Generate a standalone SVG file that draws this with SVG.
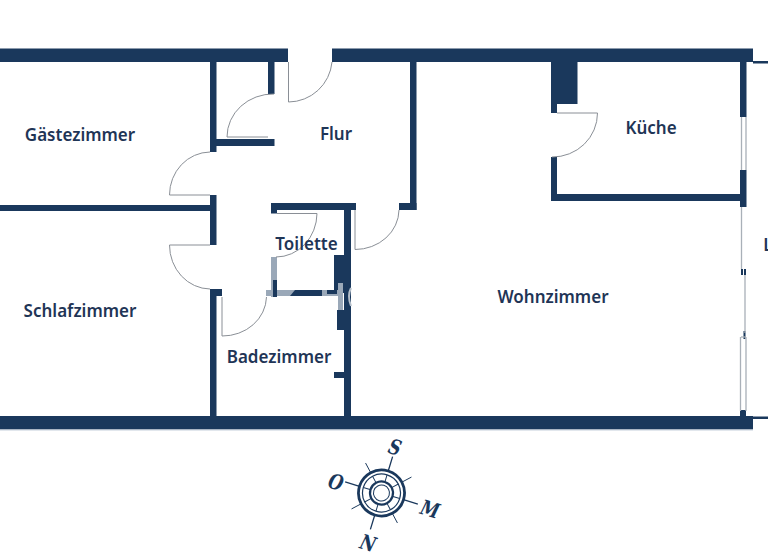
<svg xmlns="http://www.w3.org/2000/svg" width="768" height="560" viewBox="0 0 768 560">
<style>
.w{fill:#1a385c}
.g{fill:#9aa8b8}
.d{fill:none;stroke:#8a8f96;stroke-width:1}
.l{fill:none;stroke:#a9b0b8;stroke-width:1.3}
.t{font-family:"Noto Sans","Liberation Sans",sans-serif;font-weight:600;font-size:17px;fill:#1f3556;text-anchor:middle}
.c{font-family:"DejaVu Serif",serif;font-weight:700;font-style:italic;font-size:21px;fill:#1a385c;text-anchor:middle}
.k{stroke:#1a385c;fill:none}
</style>
<rect width="768" height="560" fill="#fff"/>
<g id="walls">
<rect class="w" x="0" y="48.500" width="288" height="13.500"/>
<rect class="w" x="332" y="48.500" width="421" height="13.500"/>
<rect class="w" x="753" y="61" width="15" height="2.500"/>
<rect class="w" x="0" y="416" width="753" height="13.500"/>
<rect x="0" y="429.500" width="753" height="1" fill="#c5d0dc"/>
<rect class="w" x="753" y="416.500" width="15" height="2.500"/>
<rect class="w" x="210" y="62" width="6.500" height="90"/>
<rect class="w" x="268" y="62" width="6.500" height="32"/>
<rect class="w" x="216" y="139" width="58.500" height="7"/>
<rect class="w" x="410" y="62" width="6.500" height="148"/>
<rect class="w" x="399" y="203" width="17.500" height="7"/>
<rect class="w" x="0" y="205" width="210" height="6"/>
<rect class="w" x="210" y="195" width="6.500" height="50"/>
<rect class="w" x="210" y="289" width="6.500" height="127"/>
<rect class="w" x="216" y="289" width="6" height="7"/>
<rect class="w" x="271" y="203" width="85" height="7"/>
<rect class="w" x="271" y="210" width="6" height="3.500"/>
<rect class="w" x="344" y="210" width="7" height="206"/>
<rect class="w" x="334" y="255" width="11" height="38"/>
<rect class="w" x="337" y="310" width="8" height="20"/>
<rect class="w" x="334" y="372" width="11" height="6"/>
<rect class="g" x="271" y="257" width="6" height="40"/>
<rect class="g" x="266" y="290" width="72" height="6"/>
<rect class="w" x="273" y="280" width="4" height="17"/>
<polygon class="w" points="295,290 322,290 322,296 290,296"/>
<rect class="w" x="327" y="290" width="10" height="4"/>
<rect class="g" x="338" y="283" width="5" height="27"/>
<path d="M351 288Q347 296 351 306" fill="none" stroke="#b6c0cb" stroke-width="2"/>
<rect class="w" x="551" y="62" width="26.500" height="42"/>
<rect class="w" x="551" y="104" width="6" height="9"/>
<rect class="w" x="551" y="157" width="6" height="44"/>
<rect class="w" x="551" y="194" width="190" height="7"/>
<rect class="w" x="740" y="62" width="6.500" height="55"/>
<rect class="w" x="740" y="170" width="6.500" height="37"/>
<rect class="w" x="741" y="269" width="2" height="6"/>
<rect class="w" x="744" y="269" width="2" height="6"/>
<rect class="w" x="740" y="410" width="6" height="6"/>
<rect class="w" x="743.500" y="331" width="2" height="8"/>
</g>
<g id="windows">
<path class="l" d="M741.500 117V170M746 117V170M741.500 207V269M745 275V333M740.500 337V411M746 337V411"/>
<path class="l" d="M741 337H746"/>
</g>
<g id="connectors">
<path class="d" d="M288.500 62V102A44 44 0 0 0 332 62"/>
<path class="d" d="M268 137H227A46 43 0 0 1 274 94"/>
<path class="d" d="M210 195H169.500A41 43 0 0 1 210 152"/>
<path class="d" d="M210 245H169.500A41 44 0 0 0 210 289"/>
<path class="d" d="M222 297V336A44 40 0 0 0 266.500 297"/>
<path class="d" d="M277 213.500H317A41 44 0 0 1 276 257"/>
<path class="d" d="M355 210V249.500A44 40 0 0 0 399 210"/>
<path class="d" d="M557 113H597.500A45 44 0 0 1 552 157"/>
</g>
<g id="room-gaestezimmer"><text class="t" x="80" y="141">Gästezimmer</text></g>
<g id="room-schlafzimmer"><text class="t" x="80" y="317">Schlafzimmer</text></g>
<g id="room-flur"><text class="t" x="336" y="140">Flur</text></g>
<g id="room-toilette"><text class="t" x="306.500" y="250">Toilette</text></g>
<g id="room-badezimmer"><text class="t" x="279" y="362.500">Badezimmer</text></g>
<g id="room-wohnzimmer"><text class="t" x="553" y="302.500">Wohnzimmer</text></g>
<g id="room-kueche"><text class="t" x="651" y="134">Küche</text></g>
<g id="room-l"><text class="t" x="768" y="250.500">L</text></g>
<g id="compass" transform="translate(381.500 493)">
<g transform="rotate(17)">
<circle class="k" r="23" stroke-width="2.800"/>
<circle class="k" r="19" stroke-width="1.200"/>
<circle class="k" r="11.500" stroke-width="2.200"/>
<circle class="k" r="8" stroke-width="1"/>
<path class="k" stroke-width="1.300" d="M0-23V-38M0 23V38M-23 0H-38M23 0H38"/>
<path class="k" stroke-width="0.900" d="M16-16L24-24M-16-16L-24-24M16 16L24 24M-16 16L-24 24"/>
<path class="k" stroke-width="1" d="M0-12V-19M0 12V19M-12 0H-19M12 0H19M8.500-8.500L13.500-13.500M-8.500-8.500L-13.500-13.500M8.500 8.500L13.500 13.500M-8.500 8.500L-13.500 13.500"/>
</g>
<text class="c" transform="translate(11.300 -38.800) rotate(17) scale(.8 1)">S</text>
<text class="c" transform="translate(-47.700 -3.800) rotate(17) scale(.8 1)">O</text>
<text class="c" transform="translate(46.300 23.200) rotate(17) scale(.8 1)">M</text>
<text class="c" transform="translate(-15.700 57.200) rotate(17) scale(.8 1)">N</text>
</g>
</svg>
